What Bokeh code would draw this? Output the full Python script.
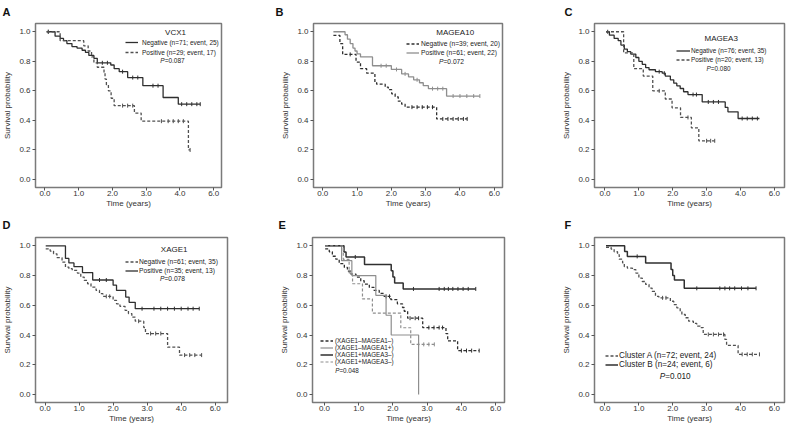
import math
from bokeh.plotting import figure
from bokeh.models import Range1d, FixedTicker, Label, Legend, LegendItem, Title
from bokeh.layouts import row, column
from bokeh.embed import file_html
from bokeh.resources import INLINE

FONT = "Liberation Sans"

# ---------------- data ----------------
x_ticks = [0, 1, 2, 3, 4, 5]
x_tick_labels = ["0.0", "1.0", "2.0", "3.0", "4.0", "6.0"]
y_ticks = [0.0, 0.2, 0.4, 0.6, 0.8, 1.0]
y_tick_labels = ["0.0", "0.2", "0.4", "0.6", "0.8", "1.0"]

# Panel A - VCX1
a_neg_t = [0.05, 0.3, 0.45, 0.55, 0.65, 0.8, 0.95, 1.1, 1.2, 1.3, 1.45, 1.55, 1.95, 2.05, 2.2, 2.45, 2.9, 3.5, 3.95]
a_neg_s = [1.0, 0.97, 0.955, 0.94, 0.92, 0.9, 0.89, 0.875, 0.86, 0.84, 0.82, 0.79, 0.775, 0.75, 0.73, 0.69, 0.635, 0.555, 0.51]
a_neg_end = 4.6
a_neg_cens = [0.1, 1.7, 1.85, 2.3, 2.6, 2.75, 3.2, 3.35, 4.05, 4.2, 4.35, 4.5, 4.6]
a_pos_t = [0.05, 0.45, 1.15, 1.28, 1.38, 1.45, 1.55, 1.75, 1.78, 1.82, 1.88, 1.96, 2.05, 2.65, 2.85, 4.25]
a_pos_s = [1.0, 0.94, 0.905, 0.87, 0.83, 0.79, 0.76, 0.72, 0.68, 0.64, 0.6, 0.55, 0.50, 0.45, 0.395, 0.20]
a_pos_end = 4.3
a_pos_cens = [0.1, 2.3, 2.45, 2.6, 3.45, 3.65, 3.8, 3.95, 4.1, 4.3]

# Panel B - MAGEA10
b_neg_t = [0.31, 0.5, 0.58, 0.97, 1.1, 1.28, 1.52, 1.57, 1.82, 1.91, 2.01, 2.11, 2.2, 2.3, 2.4, 3.32]
b_neg_s = [0.975, 0.92, 0.847, 0.795, 0.75, 0.72, 0.66, 0.645, 0.626, 0.608, 0.58, 0.56, 0.53, 0.51, 0.49, 0.41]
b_neg_end = 4.21
b_neg_cens = [0.8, 2.6, 2.75, 2.9, 3.05, 3.2, 3.5, 3.65, 3.8, 3.95, 4.1, 4.21]
b_pos_t = [0.31, 0.65, 0.72, 0.8, 0.88, 0.94, 1.0, 1.1, 1.45, 2.0, 2.3, 2.5, 2.65, 2.82, 2.93, 3.08, 3.61]
b_pos_s = [1.0, 0.98, 0.95, 0.92, 0.89, 0.87, 0.85, 0.83, 0.77, 0.745, 0.715, 0.695, 0.675, 0.655, 0.635, 0.615, 0.565]
b_pos_end = 4.58
b_pos_cens = [1.7, 1.85, 2.15, 2.4, 2.75, 3.2, 3.35, 3.5, 3.8, 4.0, 4.2, 4.4, 4.58]

# Panel C - MAGEA3
c_neg_t = [0.03, 0.13, 0.27, 0.39, 0.47, 0.57, 0.66, 0.76, 0.91, 1.0, 1.1, 1.2, 1.3, 1.49, 1.69, 1.78, 1.93, 2.03, 2.12, 2.22, 2.32, 2.45, 2.87, 3.55, 3.63, 3.93]
c_neg_s = [1.0, 0.977, 0.955, 0.94, 0.91, 0.883, 0.865, 0.849, 0.826, 0.80, 0.78, 0.758, 0.743, 0.73, 0.72, 0.70, 0.675, 0.652, 0.634, 0.616, 0.594, 0.575, 0.525, 0.488, 0.458, 0.413]
c_neg_end = 4.56
c_neg_cens = [0.08, 1.6, 1.75, 2.6, 2.7, 3.05, 3.2, 3.35, 4.05, 4.2, 4.35, 4.5]
c_pos_t = [0.03, 0.55, 0.85, 1.13, 1.41, 1.78, 1.98, 2.23, 2.55, 2.77]
c_pos_s = [1.0, 0.857, 0.75, 0.70, 0.60, 0.545, 0.485, 0.42, 0.35, 0.262]
c_pos_end = 3.24
c_pos_cens = [1.6, 2.45, 3.0, 3.12, 3.24]

# Panel D - XAGE1
d_neg_t = [0.02, 0.15, 0.25, 0.35, 0.5, 0.6, 0.7, 0.8, 0.95, 1.05, 1.15, 1.25, 1.35, 1.5, 1.6, 1.7, 2.0, 2.1, 2.2, 2.35, 2.45, 2.55, 2.65, 2.9, 2.95, 3.6, 3.95]
d_neg_s = [0.98, 0.965, 0.946, 0.92, 0.89, 0.857, 0.846, 0.835, 0.817, 0.79, 0.767, 0.745, 0.722, 0.70, 0.678, 0.66, 0.633, 0.61, 0.593, 0.566, 0.544, 0.52, 0.493, 0.45, 0.41, 0.318, 0.265]
d_neg_end = 4.6
d_neg_cens = [1.8, 1.9, 2.75, 3.1, 3.25, 3.4, 4.1, 4.25, 4.4, 4.6]
d_pos_t = [0.02, 0.6, 0.7, 0.85, 1.1, 1.4, 2.0, 2.1, 2.37, 2.47, 2.65]
d_pos_s = [1.0, 0.915, 0.885, 0.86, 0.82, 0.77, 0.735, 0.70, 0.655, 0.62, 0.577]
d_pos_end = 4.53
d_pos_cens = [1.6, 1.8, 2.85, 3.2, 3.4, 3.6, 3.8, 4.0, 4.2, 4.35, 4.53]

# Panel E - combinations
e1_t = [0.02, 0.14, 0.23, 0.33, 0.43, 0.58, 0.67, 0.77, 0.92, 1.06, 1.16, 1.31, 1.45, 1.6, 1.74, 1.94, 2.13, 2.28, 2.33, 2.43, 2.87, 3.55, 3.6, 3.89]
e1_s = [0.98, 0.96, 0.93, 0.91, 0.88, 0.855, 0.83, 0.81, 0.79, 0.765, 0.743, 0.72, 0.70, 0.68, 0.66, 0.638, 0.61, 0.585, 0.56, 0.513, 0.45, 0.41, 0.36, 0.295]
e1_end = 4.52
e1_cens = [1.8, 1.9, 2.5, 2.65, 2.75, 3.05, 3.2, 3.35, 3.45, 4.0, 4.15, 4.3, 4.52]
e2_t = [0.02, 0.5, 0.8, 1.5, 1.8, 1.95, 2.75]
e2_s = [1.0, 0.9, 0.8, 0.667, 0.533, 0.40, 0.0]
e2_end = 2.75
e2_cens = []
e3_t = [0.02, 0.57, 0.63, 1.17, 1.95, 2.0, 2.05, 2.3]
e3_s = [1.0, 0.958, 0.925, 0.875, 0.833, 0.79, 0.75, 0.71]
e3_end = 4.42
e3_cens = [0.9, 2.6, 3.35, 3.5, 3.62, 3.75, 3.9, 4.05, 4.2, 4.42]
e4_t = [0.02, 0.55, 0.72, 0.82, 1.11, 1.4, 2.23, 2.52]
e4_s = [1.0, 0.909, 0.818, 0.745, 0.643, 0.547, 0.449, 0.337]
e4_end = 3.21
e4_cens = [2.75, 2.9, 3.05, 3.21]

# Panel F - clusters
f_a_t = [0.03, 0.18, 0.27, 0.37, 0.42, 0.52, 0.57, 0.66, 0.81, 0.91, 1.0, 1.1, 1.2, 1.3, 1.39, 1.49, 1.59, 1.93, 2.03, 2.12, 2.22, 2.27, 2.37, 2.47, 2.61, 2.71, 2.81, 2.9, 3.54, 3.59, 3.93]
f_a_s = [0.99, 0.978, 0.96, 0.94, 0.91, 0.885, 0.86, 0.85, 0.84, 0.817, 0.783, 0.76, 0.74, 0.716, 0.694, 0.66, 0.65, 0.627, 0.605, 0.583, 0.56, 0.538, 0.516, 0.493, 0.478, 0.46, 0.45, 0.404, 0.37, 0.33, 0.27]
f_a_end = 4.56
f_a_cens = [1.7, 1.8, 3.05, 3.2, 3.35, 3.5, 4.05, 4.2, 4.35, 4.56]
f_b_t = [0.03, 0.58, 0.66, 1.2, 1.95, 2.0, 2.05, 2.34]
f_b_s = [1.0, 0.962, 0.929, 0.884, 0.84, 0.80, 0.77, 0.714]
f_b_end = 4.46
f_b_cens = [0.95, 2.71, 3.39, 3.54, 3.68, 3.83, 4.03, 4.22, 4.46]

# ---------------- styling ----------------
DARK = "#2f2f2f"
MID = "#505050"
LIGHT = "#8e8e8e"
TXT = "#222222"
DASH = "3 2"


def cens_y(t, s, ct):
    out = []
    for c in ct:
        idx = 0
        for i, ti in enumerate(t):
            if ti <= c + 1e-9:
                idx = i
        out.append(s[idx])
    return out


def make_panel(spec):
    fh = spec["height"] - spec["top"] - spec["bottom"]
    p = figure(width=spec["width"], height=spec["height"], title=None,
               min_border_left=spec["left"], min_border_right=spec["right"],
               min_border_top=spec["top"], min_border_bottom=spec["bottom"],
               x_range=Range1d(*spec["xr"]), y_range=Range1d(-0.054, 1.056),
               x_axis_label="Time (years)", y_axis_label="Survival probability",
               output_backend="svg", toolbar_location=None)
    p.xgrid.visible = False
    p.ygrid.visible = False
    p.outline_line_color = "#7a7a7a"
    p.outline_line_width = 1.5
    p.background_fill_color = "white"
    p.border_fill_color = "white"

    p.xaxis.ticker = FixedTicker(ticks=x_ticks)
    p.xaxis.major_label_overrides = {t: l for t, l in zip(x_ticks, x_tick_labels)}
    p.yaxis.ticker = FixedTicker(ticks=y_ticks)
    p.yaxis.major_label_overrides = {t: l for t, l in zip(y_ticks, y_tick_labels)}
    for ax in (p.xaxis[0], p.yaxis[0]):
        ax.axis_line_color = "#7a7a7a"
        ax.axis_line_width = 1
        ax.major_tick_line_color = "#555555"
        ax.major_tick_out = 3
        ax.major_tick_in = 0
        ax.minor_tick_line_color = None
        ax.major_label_text_font = FONT
        ax.major_label_text_font_size = "8px"
        ax.major_label_text_color = "#333333"
        ax.axis_label_text_font = FONT
        ax.axis_label_text_font_size = "8px"
        ax.axis_label_text_font_style = "normal"
        ax.axis_label_text_color = "#333333"
    p.xaxis.major_label_standoff = 0
    p.xaxis.axis_label_standoff = 0
    p.yaxis.major_label_standoff = 2
    p.yaxis.axis_label_standoff = 4

    rends = []
    for (t, s, end, cens, color, dash, lw) in spec["series"]:
        xs = list(t) + [end]
        ys = list(s) + [s[-1]]
        r = p.step(xs, ys, mode="after", line_color=color, line_width=lw, line_dash=dash)
        rends.append(r)
        if cens:
            p.scatter(cens, cens_y(t, s, cens), marker="dash", angle=math.pi / 2,
                      size=4, line_color=color, line_width=1)

    lg = spec["legend"]
    n = len(spec["labels"])
    leg = Legend(items=[LegendItem(label=l, renderers=[r]) for l, r in zip(spec["labels"], rends)],
                 location=(lg["left"], fh - lg["top"] - n * lg["row"]),
                 orientation="vertical", padding=0, margin=0, spacing=0,
                 glyph_width=lg["glyph"], glyph_height=lg["row"], label_height=lg["row"],
                 label_width=10, label_standoff=lg["standoff"],
                 label_text_font=FONT, label_text_font_size=f'{lg["size"]}px',
                 label_text_color=TXT, background_fill_alpha=0, border_line_alpha=0)
    p.add_layout(leg)

    if spec.get("gene"):
        gx, gy = spec["gene_pos"]
        p.add_layout(Label(x=gx, y=fh - gy, x_units="screen", y_units="screen",
                           text=spec["gene"], text_font=FONT, text_font_size="8px",
                           text_align="center", text_baseline="middle", text_color=TXT))

    # P value with italic P
    px, py, psize, palign = spec["pval_pos"]
    total = 3.753 * psize
    x0 = px - total / 2 if palign == "center" else px
    p.add_layout(Label(x=x0, y=fh - py, x_units="screen", y_units="screen", text="P",
                       text_font=FONT, text_font_size=f"{psize}px", text_font_style="italic",
                       text_align="left", text_baseline="middle", text_color=TXT))
    p.add_layout(Label(x=x0 + 0.667 * psize, y=fh - py, x_units="screen", y_units="screen",
                       text=spec["pval"], text_font=FONT, text_font_size=f"{psize}px",
                       text_align="left", text_baseline="middle", text_color=TXT))

    # panel letter as a title above the frame
    p.add_layout(Title(text=spec["letter"], align="left", vertical_align="top",
                       offset=spec["letter_off"], standoff=spec["top"] - 15,
                       text_font=FONT, text_font_size="11px",
                       text_font_style="bold", text_color="#111111"), "above")
    return p


R1 = dict(height=213, top=23, bottom=26)
R2 = dict(height=213, top=24, bottom=24)

specs = [
    dict(R1, letter="A", letter_off=-33, width=274, left=33, right=53,
         xr=(-0.28, 5.23), gene="VCX1", gene_pos=(140, 9),
         series=[(a_neg_t, a_neg_s, a_neg_end, a_neg_cens, DARK, "solid", 1.3),
                 (a_pos_t, a_pos_s, a_pos_end, a_pos_cens, MID, DASH, 1.3)],
         labels=["Negative (n=71; event, 25)", "Positive (n=29; event, 17)"],
         legend=dict(left=90, top=14, row=10, glyph=13, standoff=4, size=6.5),
         pval="=0.087", pval_pos=(137, 37, 6.5, "center")),
    dict(R1, letter="B", letter_off=-38, width=285, left=39, right=57,
         xr=(-0.27, 5.24), gene="MAGEA10", gene_pos=(141.7, 8.7),
         series=[(b_neg_t, b_neg_s, b_neg_end, b_neg_cens, DARK, DASH, 1.3),
                 (b_pos_t, b_pos_s, b_pos_end, b_pos_cens, LIGHT, "solid", 1.3)],
         labels=["Negative (n=39; event, 20)", "Positive (n=61; event, 22)"],
         legend=dict(left=93, top=16, row=9, glyph=13, standoff=2, size=6.7),
         pval="=0.072", pval_pos=(138, 37.7, 6.7, "center")),
    dict(R1, letter="C", letter_off=-30, width=229, left=33, right=4,
         xr=(-0.31, 5.3), gene="MAGEA3", gene_pos=(126.7, 15.3),
         series=[(c_neg_t, c_neg_s, c_neg_end, c_neg_cens, DARK, "solid", 1.3),
                 (c_pos_t, c_pos_s, c_pos_end, c_pos_cens, MID, DASH, 1.3)],
         labels=["Negative (n=76; event, 35)", "Positive (n=20; event, 13)"],
         legend=dict(left=82, top=23, row=9, glyph=14, standoff=1, size=6.4),
         pval="=0.080", pval_pos=(124, 45, 6.4, "center")),
    dict(R2, letter="D", letter_off=-33, width=274, left=33, right=47,
         xr=(-0.28, 5.36), gene="XAGE1", gene_pos=(138.7, 12),
         series=[(d_neg_t, d_neg_s, d_neg_end, d_neg_cens, MID, DASH, 1.3),
                 (d_pos_t, d_pos_s, d_pos_end, d_pos_cens, DARK, "solid", 1.3)],
         labels=["Negative (n=61; event, 35)", "Positive (n=35; event, 13)"],
         legend=dict(left=90, top=20, row=9, glyph=13, standoff=1, size=6.7),
         pval="=0.078", pval_pos=(137, 41.3, 6.7, "center")),
    dict(R2, letter="E", letter_off=-34, width=285, left=38, right=55,
         xr=(-0.35, 5.26), gene=None,
         series=[(e1_t, e1_s, e1_end, e1_cens, DARK, DASH, 1.3),
                 (e2_t, e2_s, e2_end, e2_cens, LIGHT, "solid", 1.2),
                 (e3_t, e3_s, e3_end, e3_cens, DARK, "solid", 1.5),
                 (e4_t, e4_s, e4_end, e4_cens, LIGHT, DASH, 1.2)],
         labels=["(XAGE1\u2013MAGEA1\u2013)", "(XAGE1\u2013MAGEA1+)",
                 "(XAGE1+MAGEA3\u2013)", "(XAGE1+MAGEA3\u2013)"],
         legend=dict(left=8, top=100, row=7, glyph=13, standoff=2, size=6.3),
         pval="=0.048", pval_pos=(22.7, 133.3, 6.3, "left")),
    dict(R2, letter="F", letter_off=-30, width=229, left=33, right=4,
         xr=(-0.31, 5.3), gene=None,
         series=[(f_a_t, f_a_s, f_a_end, f_a_cens, MID, DASH, 1.3),
                 (f_b_t, f_b_s, f_b_end, f_b_cens, DARK, "solid", 1.5)],
         labels=["Cluster A (n=72; event, 24)", "Cluster B (n=24; event, 6)"],
         legend=dict(left=11, top=114, row=9, glyph=13, standoff=1, size=8.2),
         pval="=0.010", pval_pos=(80.7, 138.7, 8.2, "center")),
]

panels = [make_panel(s) for s in specs]
layout = column(row(*panels[:3], spacing=0), row(*panels[3:], spacing=0), spacing=0)

open("out.html", "w").write(file_html(layout, INLINE))
